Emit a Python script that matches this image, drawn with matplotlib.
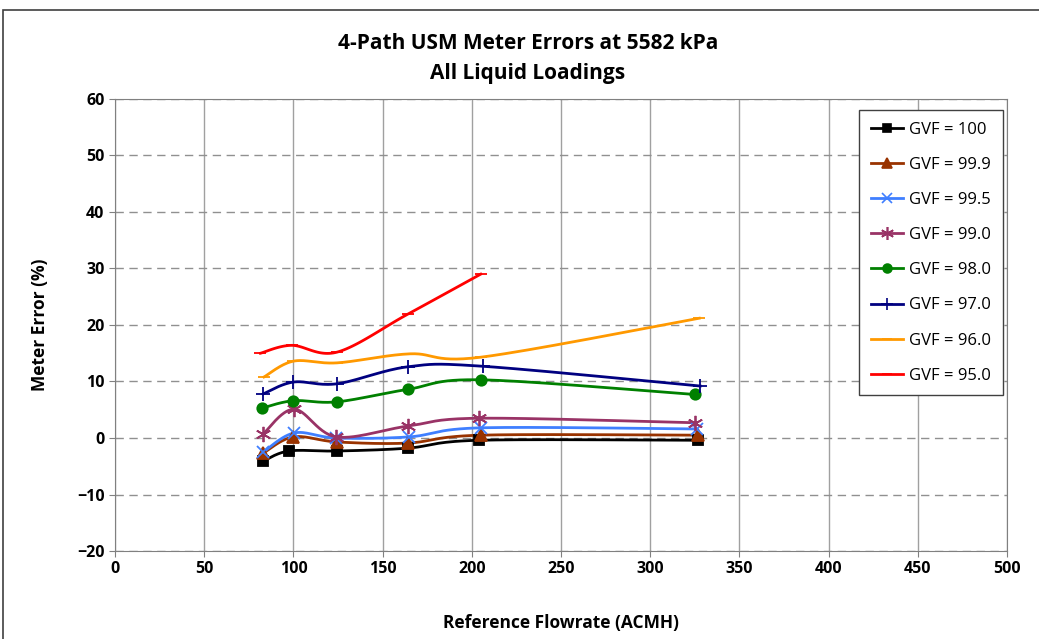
import numpy as np
import matplotlib.pyplot as plt
from matplotlib.patches import Rectangle

FONT = 'Open Sans'

# Data
gvf_labels = ['GVF = 100', 'GVF = 99.9', 'GVF = 99.5', 'GVF = 99.0',
              'GVF = 98.0', 'GVF = 97.0', 'GVF = 96.0', 'GVF = 95.0']

flow_100 = [83, 97.5, 124.5, 164, 204, 327]
err_100 = [-4.1, -2.3, -2.3, -1.8, -0.4, -0.4]

flow_999 = [83, 100, 124.5, 164, 205, 327]
err_999 = [-2.7, 0.2, -0.7, -0.9, 0.5, 0.5]

flow_995 = [83, 100.5, 124, 165, 205, 326]
err_995 = [-2.5, 0.9, 0.0, 0.2, 1.8, 1.6]

flow_990 = [83, 100.5, 124, 164, 204, 325]
err_990 = [0.7, 5.1, 0.2, 2.1, 3.5, 2.7]

flow_980 = [82.5, 100, 124.5, 164, 205, 325]
err_980 = [5.3, 6.6, 6.4, 8.6, 10.3, 7.7]

flow_970 = [83, 100, 124.5, 164, 206, 328]
err_970 = [7.8, 9.9, 9.6, 12.6, 12.7, 9.2]

flow_960 = [83.5, 100, 124.5, 165.5, 205, 327.5]
err_960 = [10.8, 13.6, 13.3, 14.9, 14.3, 21.2]

flow_950 = [81.5, 99, 124.5, 164, 205]
err_950 = [15.0, 16.4, 15.2, 21.9, 29.0]

series = [
    (flow_100, err_100, 'black', 's', 7.5),
    (flow_999, err_999, '#993300', '^', 8),
    (flow_995, err_995, '#3f7fff', 'x', 8),
    (flow_990, err_990, '#993366', (6, 2, 0), 11),
    (flow_980, err_980, 'green', 'o', 7.5),
    (flow_970, err_970, '#000080', '+', 10),
    (flow_960, err_960, '#ff9900', '_', 8),
    (flow_950, err_950, 'red', '_', 8),
]


def smooth_curve(x, y, n=30):
    # Excel style smoothing: cubic Bezier with Catmull-Rom control points
    x = np.asarray(x, float)
    y = np.asarray(y, float)
    pts = np.column_stack([x, y])
    ext = np.vstack([pts[0], pts, pts[-1]])
    out = [pts[0]]
    t = np.linspace(0, 1, n)[1:, None]
    for i in range(1, len(ext) - 2):
        p0, p1, p2, p3 = ext[i - 1], ext[i], ext[i + 1], ext[i + 2]
        c1 = p1 + (p2 - p0) / 6.0
        c2 = p2 - (p3 - p1) / 6.0
        seg = ((1 - t) ** 3 * p1 + 3 * (1 - t) ** 2 * t * c1
               + 3 * (1 - t) * t ** 2 * c2 + t ** 3 * p2)
        out.extend(seg)
    out = np.array(out)
    return out[:, 0], out[:, 1]


fig = plt.figure(figsize=(10.39, 6.39), dpi=100)
fig.patches.append(Rectangle((0.003, -0.01), 1.0, 0.995, transform=fig.transFigure,
                             fill=False, edgecolor='#404040', linewidth=1.2))
ax = fig.add_axes([0.1107, 0.1377, 0.8585, 0.7074])

for (fx, fy, col, mk, ms), lab in zip(series, gvf_labels):
    sx, sy = smooth_curve(fx, fy)
    ax.plot(sx, sy, color=col, linewidth=2, zorder=3)
    ax.plot(fx, fy, linestyle='none', marker=mk, color=col, markersize=ms,
            markeredgewidth=1.3, zorder=4)
    # legend proxy
    ax.plot([], [], color=col, linewidth=2, marker=mk, markersize=ms * 0.85,
            markeredgewidth=1.2, label=lab)

ax.set_xlim(0, 500)
ax.set_ylim(-20, 60)
ax.set_xticks(np.arange(0, 501, 50))
ax.set_yticks(np.arange(-20, 61, 10))
ax.xaxis.grid(True, color='#a0a0a0', linewidth=1, linestyle='-')
ax.yaxis.grid(True, color='#909090', linewidth=1, linestyle=(0, (6, 4)))
ax.set_axisbelow(True)
for s in ax.spines.values():
    s.set_color('#808080')
ax.tick_params(axis='both', direction='out', length=4, color='#808080',
               labelsize=11.5)
for lbl in ax.get_xticklabels() + ax.get_yticklabels():
    lbl.set_fontweight('bold')
    lbl.set_family(FONT)

ax.set_xlabel('Reference Flowrate (ACMH)', fontsize=12.5, fontweight='bold',
              family=FONT, labelpad=26)
ax.set_ylabel('Meter Error (%)', fontsize=12.5, fontweight='bold',
              family=FONT, labelpad=20)
fig.text(0.508, 0.932, '4-Path USM Meter Errors at 5582 kPa', ha='center',
         va='center', fontsize=15, fontweight='bold', family=FONT)
fig.text(0.508, 0.885, 'All Liquid Loadings', ha='center', va='center',
         fontsize=15, fontweight='bold', family=FONT)

leg = ax.legend(loc='upper right', bbox_to_anchor=(0.9955, 0.9757),
                fancybox=False, edgecolor='#404040', framealpha=1,
                prop={'family': FONT, 'size': 12}, handlelength=1.9,
                labelspacing=1.15, borderpad=0.7, handletextpad=0.4,
                borderaxespad=0)
leg.get_frame().set_linewidth(1.0)

fig.savefig('out.png', dpi=100)
